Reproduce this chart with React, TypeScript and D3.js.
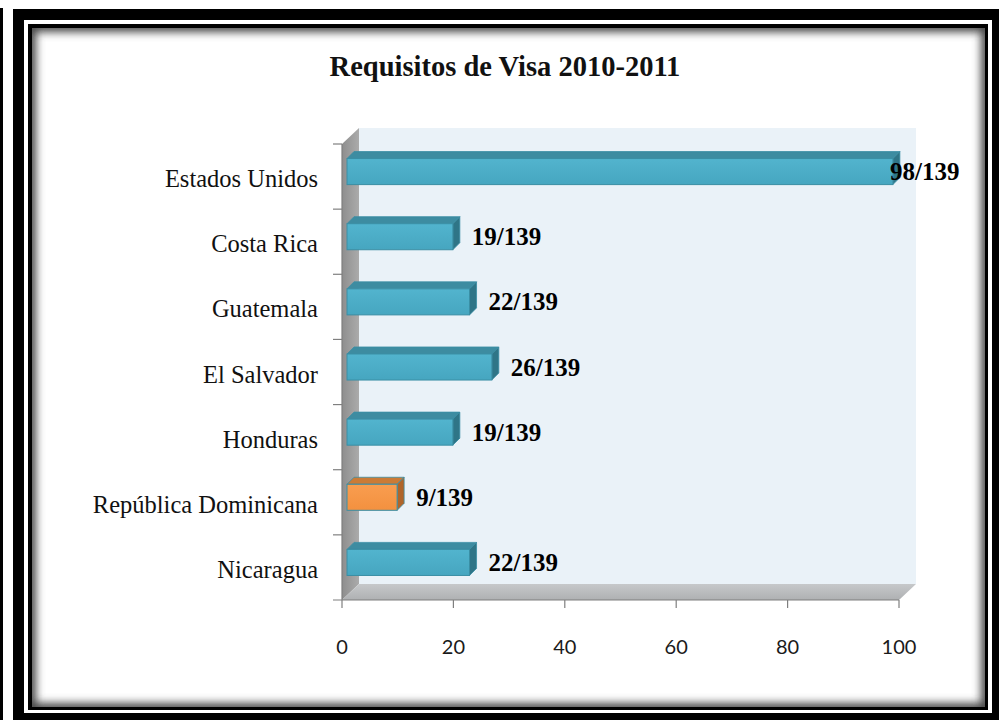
import React from "react";
import * as d3 from "d3";

const title = "Requisitos de Visa 2010-2011";
const categories = [
  "Estados Unidos",
  "Costa Rica",
  "Guatemala",
  "El Salvador",
  "Honduras",
  "República Dominicana",
  "Nicaragua",
];
const values = [98, 19, 22, 26, 19, 9, 22];
const valueLabels = ["98/139", "19/139", "22/139", "26/139", "19/139", "9/139", "22/139"];
const highlighted = ["República Dominicana"];
const xTicks = [0, 20, 40, 60, 80, 100];

const W = 999;
const H = 720;

export default function App() {
  const x = d3.scaleLinear().domain([0, 100]).range([342, 899]);
  const y = d3.scaleBand<string>().domain(categories).range([144, 600]);
  const DX = 17; // depth offset of the back wall
  const DY = -16;
  const plotTop = 144;
  const plotBottom = 600;
  const x0 = x(0);
  const x1 = x(100);
  const bOff = 5; // bar depth position
  const bD = 7; // bar depth
  const bH = y.bandwidth() * 0.4;

  const teal = { front: "#4BACC6", top: "#3D8CA1", side: "#2F7587", stroke: "#3A8EA4" };
  const orange = { front: "#F79646", top: "#CB7B36", side: "#B0652A", stroke: "#3A8EA4" };

  const poly = (pts: [number, number][]) => pts.map((p) => p.join(",")).join(" ");

  return (
    <svg
      width={W}
      height={H}
      style={{ position: "absolute", left: 0, top: 0, background: "#fff" }}
      fontFamily="'Liberation Serif', serif"
    >
      <defs>
        <clipPath id="inner">
          <rect x={32} y={28} width={953} height={679} />
        </clipPath>
        <filter id="blur" x="-5%" y="-5%" width="110%" height="110%">
          <feGaussianBlur stdDeviation={4} />
        </filter>
        <linearGradient id="wallG" x1="0" x2="1" y1="0" y2="0">
          <stop offset="0" stopColor="#8E8E8E" />
          <stop offset="1" stopColor="#ABABAB" />
        </linearGradient>
        <linearGradient id="floorG" x1="0" x2="0" y1="0" y2="1">
          <stop offset="0" stopColor="#C6C8CA" />
          <stop offset="1" stopColor="#AEB0B2" />
        </linearGradient>
        <linearGradient id="frontT" x1="0" x2="0" y1="0" y2="1">
          <stop offset="0" stopColor="#52B4CE" />
          <stop offset="1" stopColor="#46A6C0" />
        </linearGradient>
        <linearGradient id="frontO" x1="0" x2="0" y1="0" y2="1">
          <stop offset="0" stopColor="#F99D50" />
          <stop offset="1" stopColor="#F3913F" />
        </linearGradient>
      </defs>

      {/* frame */}
      <rect x={0} y={8} width={3} height={H - 8} fill="#000" />
      <rect x={13} y={9} width={W - 13} height={H - 9} fill="#000" />
      <rect x={24} y={20} width={968} height={693} fill="#fff" />
      <rect x={28} y={24} width={960} height={686} fill="#000" />
      <rect x={32} y={28} width={953} height={679} fill="#fff" />
      <g clipPath="url(#inner)">
        <rect x={30} y={26} width={957} height={683} fill="none" stroke="#444" strokeWidth={12} filter="url(#blur)" />
      </g>

      {/* title */}
      <text x={505} y={76} textAnchor="middle" fontSize={28.5} fontWeight="bold" fill="#111">
        {title}
      </text>

      {/* back wall */}
      <rect x={x0 + DX} y={plotTop + DY} width={x1 - x0} height={plotBottom - plotTop} fill="#EAF2F8" />
      {/* left wall */}
      <polygon
        points={poly([
          [x0, plotTop],
          [x0 + DX, plotTop + DY],
          [x0 + DX, plotBottom + DY],
          [x0, plotBottom],
        ])}
        fill="url(#wallG)"
      />
      {/* floor */}
      <polygon
        points={poly([
          [x0, plotBottom],
          [x0 + DX, plotBottom + DY],
          [x1 + DX, plotBottom + DY],
          [x1, plotBottom],
        ])}
        fill="url(#floorG)"
      />

      {/* axes */}
      <line x1={x0} x2={x0} y1={plotTop} y2={plotBottom} stroke="#7F7F7F" strokeWidth={1.2} />
      <line x1={333} x2={x1} y1={plotBottom} y2={plotBottom} stroke="#7F7F7F" strokeWidth={1.2} />
      {categories.map((c) => (
        <line key={"t" + c} x1={333} x2={x0} y1={y(c)!} y2={y(c)!} stroke="#7F7F7F" strokeWidth={1.2} />
      ))}
      {xTicks.map((t) => (
        <g key={"x" + t}>
          <line x1={x(t)} x2={x(t)} y1={plotBottom} y2={plotBottom + 8} stroke="#7F7F7F" strokeWidth={1.2} />
          <text
            x={x(t)}
            y={646}
            textAnchor="middle"
            dominantBaseline="central"
            fontFamily="Lato, 'Open Sans', sans-serif"
            fontSize={20}
            fill="#1a1a1a"
          >
            {t}
          </text>
        </g>
      ))}

      {/* category labels */}
      {categories.map((c) => (
        <text
          key={"c" + c}
          x={318}
          y={y(c)! + y.bandwidth() / 2 + 2}
          textAnchor="end"
          dominantBaseline="central"
          fontSize={24.5}
          fill="#111"
        >
          {c}
        </text>
      ))}

      {/* bars */}
      {categories.map((c, i) => {
        const col = highlighted.includes(c) ? orange : teal;
        const fx0 = x0 + bOff;
        const fx1 = x(values[i]) + bOff;
        const cy = y(c)! + y.bandwidth() / 2 - bOff;
        const yt = cy - bH / 2;
        const yb = cy + bH / 2;
        const grad = highlighted.includes(c) ? "url(#frontO)" : "url(#frontT)";
        const labelX = Math.min(fx1 + bD + 12, x1 + DX - 26);
        return (
          <g key={"b" + c}>
            <polygon
              points={poly([
                [fx0, yt],
                [fx1, yt],
                [fx1 + bD, yt - bD],
                [fx0 + bD, yt - bD],
              ])}
              fill={col.top}
              stroke={col.stroke}
              strokeWidth={0.8}
            />
            <polygon
              points={poly([
                [fx1, yt],
                [fx1 + bD, yt - bD],
                [fx1 + bD, yb - bD],
                [fx1, yb],
              ])}
              fill={col.side}
              stroke={col.stroke}
              strokeWidth={0.8}
            />
            <rect x={fx0} y={yt} width={fx1 - fx0} height={bH} fill={grad} stroke={col.stroke} strokeWidth={1} />
            <text
              x={labelX}
              y={cy}
              dominantBaseline="central"
              fontSize={25}
              fontWeight="bold"
              fill="#000"
            >
              {valueLabels[i]}
            </text>
          </g>
        );
      })}
    </svg>
  );
}
